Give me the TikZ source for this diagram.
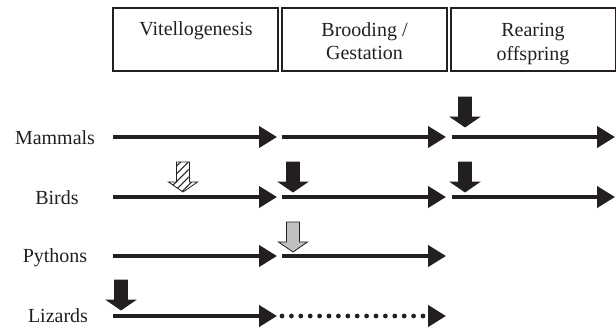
\documentclass[tikz,border=0pt]{standalone}
\usepackage{fontspec}
\setmainfont{Liberation Serif}
\usetikzlibrary{arrows.meta,patterns.meta}
\definecolor{ink}{RGB}{35,31,32}
\definecolor{pgray}{RGB}{190,192,194}
\begin{document}
\begin{tikzpicture}[x=1pt,y=-1pt,
  seg/.style={draw=ink, line width=4pt, -{Triangle[length=18pt,width=21pt]}},
  dotseg/.style={seg, line width=4.8pt, line cap=round, dash pattern=on 0pt off 9.4pt},
  phase/.style={draw=ink, line width=2pt, minimum width=165pt, minimum height=63pt, inner sep=0pt},
  lbl/.style={font=\fontsize{20}{23}\selectfont, text=ink, inner sep=0pt, anchor=base},
  pics/downarrow/.style={code={\draw[pic actions, line width=0.8pt, draw=ink, line join=miter]
      (0,0) -- (-14.5,-10) -- (-6.5,-10) -- (-6.5,-30) -- (6.5,-30) -- (6.5,-10) -- (14.5,-10) -- cycle;}}
]
\useasboundingbox (0,0) rectangle (616,327);

% phase boxes
\node[phase] (vit) at (195.5,39) {};
\node[phase] (brd) at (364.5,39) {};
\node[phase] (rer) at (533.5,39) {};
\node[lbl] (vitT)  at (196,35) {Vitellogenesis};
\node[lbl] (brdT1) at (364.5,36) {Brooding /};
\node[lbl] (brdT2) at (364.5,59) {Gestation};
\node[lbl] (rerT1) at (533,36) {Rearing};
\node[lbl] (rerT2) at (533,60) {offspring};

% species labels
\node[lbl] (mam) at (55,144) {Mammals};
\node[lbl] (bir) at (57,204) {Birds};
\node[lbl] (pyt) at (55,262) {Pythons};
\node[lbl] (liz) at (58,322) {Lizards};

% coordinates of the time lines
\foreach \r/\y in {m/137,b/197,p/256,l/316}{
  \coordinate (\r0) at (113,\y);
  \coordinate (\r1) at (277,\y);
  \coordinate (\r2) at (282,\y);
  \coordinate (\r3) at (446,\y);
  \coordinate (\r4) at (452,\y);
  \coordinate (\r5) at (615,\y);
}

% Mammals
\draw[seg] (m0) -- (m1);
\draw[seg] (m2) -- (m3);
\draw[seg] (m4) -- (m5);
% Birds
\draw[seg] (b0) -- (b1);
\draw[seg] (b2) -- (b3);
\draw[seg] (b4) -- (b5);
% Pythons
\draw[seg] (p0) -- (p1);
\draw[seg] (p2) -- (p3);
% Lizards
\draw[seg] (l0) -- (l1);
\draw[dotseg] (l2) -- (l3);

% block arrows
\pic[fill=ink] at (465,127) {downarrow};
\pic[pattern={Lines[angle=45,distance=5.5pt,line width=1pt]}, pattern color=ink] at (183,192) {downarrow};
\pic[fill=ink] at (293,192) {downarrow};
\pic[fill=ink] at (465,192) {downarrow};
\pic[fill=pgray] at (293,252) {downarrow};
\pic[fill=ink] at (121,310) {downarrow};
\end{tikzpicture}
\end{document}
